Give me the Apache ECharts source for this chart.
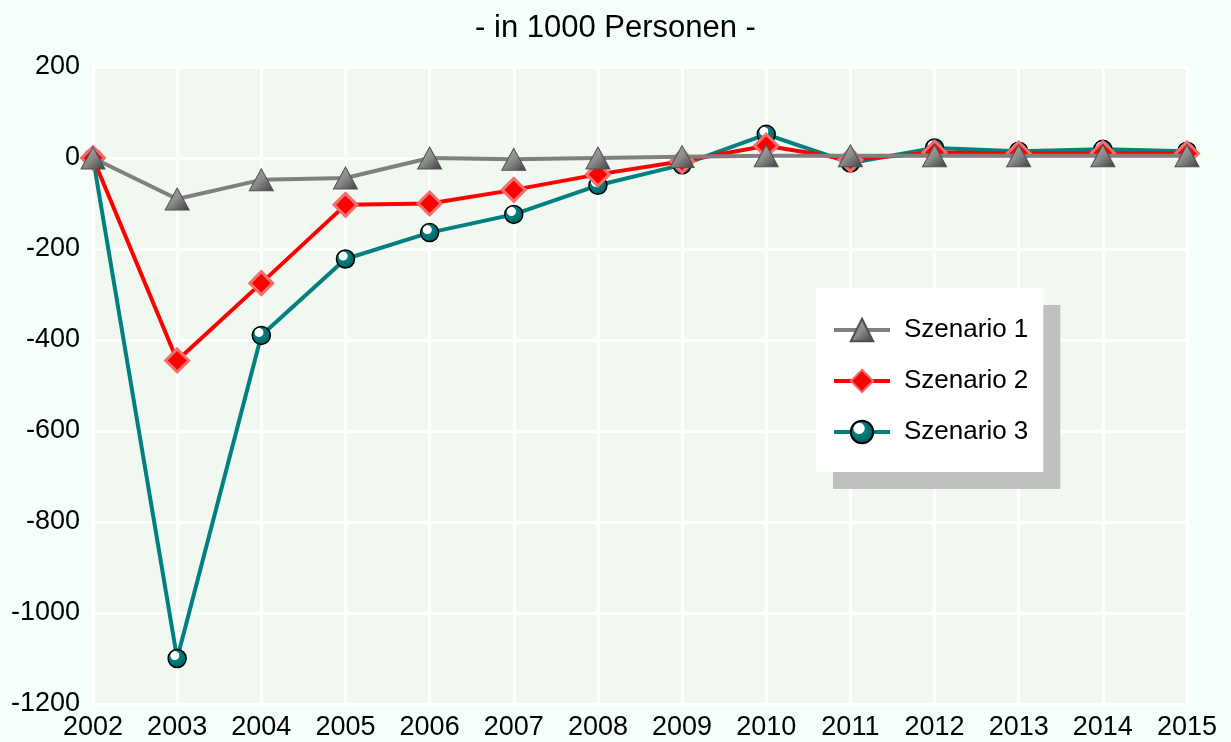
<!DOCTYPE html>
<html>
<head>
<meta charset="utf-8">
<script src="https://cdn.jsdelivr.net/npm/echarts@6/dist/echarts.min.js"></script>
<style>
  html, body { margin: 0; padding: 0; background: #f5fffa; }
  #chart { width: 1231px; height: 742px; }
</style>
</head>
<body>
<div id="chart"></div>
<script>
// Jahre und Werte (in 1000 Personen)
var years = ['2002', '2003', '2004', '2005', '2006', '2007', '2008', '2009', '2010', '2011', '2012', '2013', '2014', '2015']
var szenario1 = [0, -90, -48, -44, 0, -3, 0, 3, 5, 5, 5, 5, 5, 5]
var szenario2 = [0, -445, -275, -103, -100, -70, -36, -7, 27, -4, 12, 10, 11, 10]
var szenario3 = [0, -1100, -390, -222, -164, -124, -60, -15, 52, -11, 22, 15, 19, 15]
var yTicks = [-1200, -1000, -800, -600, -400, -200, 0, 200]

var font = 'Liberation Sans, Arial, sans-serif'

var myCharts = echarts.init(document.getElementById('chart'))
myCharts.setOption({
  backgroundColor: '#f5fffa',
  animation: false,
  title: {
    text: '- in 1000 Personen -',
    left: 'center',
    top: 8,
    textStyle: {
      color: '#000',
      fontFamily: font,
      fontSize: 31,
      fontWeight: 'normal'
    }
  },
  grid: {
    left: 93,
    right: 44,
    top: 67,
    bottom: 38,
    show: true,
    backgroundColor: '#f0f8f0',
    borderColor: '#ffffff',
    borderWidth: 2
  },
  legend: {
    orient: 'vertical',
    left: 816,
    top: 288,
    padding: [29, 15, 27, 16],
    itemGap: 25,
    itemWidth: 56,
    itemHeight: 28,
    backgroundColor: '#ffffff',
    shadowColor: '#c0c0c0',
    shadowBlur: 0,
    shadowOffsetX: 17,
    shadowOffsetY: 17,
    lineStyle: { width: 4 },
    textStyle: {
      color: '#000',
      fontFamily: font,
      fontSize: 26,
      padding: [0, 0, 0, 9]
    },
    data: ['Szenario 1', 'Szenario 2', 'Szenario 3']
  },
  xAxis: {
    type: 'category',
    boundaryGap: false,
    data: years,
    axisLine: { show: false },
    axisTick: { show: false },
    splitLine: {
      show: true,
      lineStyle: { color: '#ffffff', width: 3 }
    },
    axisLabel: {
      color: '#000',
      fontFamily: font,
      fontSize: 27,
      margin: 10,
      interval: 0
    }
  },
  yAxis: {
    type: 'value',
    min: -1200,
    max: 200,
    interval: 200,
    axisLine: { show: false },
    axisTick: { show: false },
    splitLine: {
      lineStyle: { color: '#ffffff', width: 3 }
    },
    axisLabel: {
      color: '#000',
      fontFamily: font,
      fontSize: 27,
      margin: 13,
      formatter: function (value) {
        return yTicks.indexOf(value) >= 0 ? String(value) : ''
      }
    }
  },
  series: [
    {
      name: 'Szenario 1',
      type: 'line',
      data: szenario1,
      z: 4,
      symbol: 'triangle',
      symbolSize: [24, 22],
      lineStyle: { color: '#808080', width: 4 },
      itemStyle: {
        color: new echarts.graphic.LinearGradient(0, 0, 1, 1, [
          { offset: 0, color: '#b4b4b4' },
          { offset: 0.5, color: '#8a8a8a' },
          { offset: 1, color: '#3c3c3c' }
        ]),
        borderColor: '#505050',
        borderWidth: 1
      }
    },
    {
      name: 'Szenario 2',
      type: 'line',
      data: szenario2,
      z: 3,
      symbol: 'diamond',
      symbolSize: [23, 23],
      lineStyle: { color: '#ff0000', width: 4 },
      itemStyle: {
        color: '#ff0000',
        borderColor: '#f07070',
        borderWidth: 3
      }
    },
    {
      name: 'Szenario 3',
      type: 'line',
      data: szenario3,
      z: 2,
      symbol: 'circle',
      symbolSize: 18,
      lineStyle: { color: '#008080', width: 4 },
      itemStyle: {
        color: new echarts.graphic.RadialGradient(0.38, 0.35, 0.55, [
          { offset: 0, color: '#ffffff' },
          { offset: 0.38, color: '#ffffff' },
          { offset: 0.45, color: '#008080' },
          { offset: 1, color: '#006868' }
        ]),
        borderColor: '#000000',
        borderWidth: 1.5
      }
    }
  ]
})
</script>
</body>
</html>
